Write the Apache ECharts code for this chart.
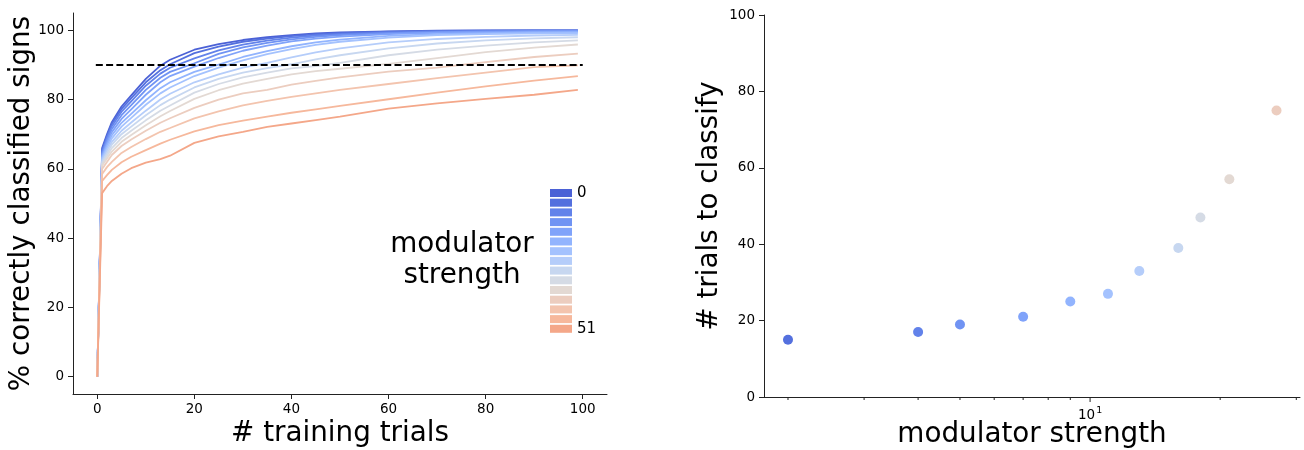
<!DOCTYPE html>
<html>
<head>
<meta charset="utf-8">
<script src="https://cdn.jsdelivr.net/npm/echarts@6/dist/echarts.min.js"></script>
<style>
  html, body { margin: 0; background: #fff; }
  #chart { width: 1304px; height: 450px; }
</style>
</head>
<body>
<div id="chart"></div>
<script>
// training trial index (x of the learning curves)
const trials = [0, 1, 2, 3, 5, 7, 10, 13, 15, 20, 25, 30, 35, 40, 45, 50, 60, 70, 80, 90, 99];
// modulator strength of each curve
const strengths = [0, 2, 4, 5, 7, 9, 11, 13, 16, 18, 21, 27, 33, 41, 51];
// % correctly classified, one row per strength
const accuracy = [
  [0, 66, 70, 73.5, 78, 81.2, 86, 89.8, 91.5, 94.4, 96, 97.2, 98, 98.6, 99.1, 99.4, 99.7, 99.9, 100, 100, 100],
  [0, 65.5, 69.5, 73, 77.3, 80.4, 85, 88.5, 90.2, 93.4, 95.3, 96.7, 97.6, 98.3, 98.8, 99.2, 99.6, 99.8, 99.9, 100, 100],
  [0, 65, 69, 72.3, 76.5, 79.5, 84, 87.5, 89.2, 91.9, 94.2, 95.9, 97, 97.9, 98.5, 98.9, 99.4, 99.7, 99.8, 99.9, 99.9],
  [0, 64.5, 68.3, 71.5, 75.5, 78.4, 82.8, 86.3, 88, 90.5, 93.2, 95.1, 96.4, 97.4, 98.1, 98.6, 99.2, 99.5, 99.7, 99.8, 99.8],
  [0, 64, 67.5, 70.6, 74.4, 77.2, 81.4, 85, 86.8, 89.5, 92, 94.1, 95.6, 96.8, 97.6, 98.2, 98.9, 99.3, 99.5, 99.6, 99.7],
  [0, 63.5, 66.8, 69.7, 73.3, 75.9, 79.8, 83.3, 85, 88, 90.1, 92.3, 94, 95.4, 96.5, 97.3, 98.4, 98.9, 99.2, 99.4, 99.5],
  [0, 63, 66, 68.8, 72.2, 74.7, 78.5, 81.8, 83.5, 86.8, 89.2, 91.3, 93.1, 94.6, 95.8, 96.7, 97.9, 98.6, 98.9, 99.1, 99.2],
  [0, 62.5, 65.3, 67.8, 71, 73.4, 76.8, 80, 81.7, 85, 87.3, 89.2, 90.6, 92.2, 93.6, 94.8, 96.5, 97.5, 98.1, 98.5, 98.7],
  [0, 62, 64.5, 67, 70, 72.2, 75.5, 78.4, 80, 83.5, 86, 87.8, 89.1, 90.2, 91.6, 92.8, 94.8, 96.2, 97.1, 97.7, 98],
  [0, 61.5, 63.8, 66, 68.9, 71, 74, 76.8, 78.3, 82, 84.5, 86.4, 87.8, 89, 89.7, 90.6, 92.8, 94.4, 95.6, 96.5, 97.1],
  [0, 61, 63, 65, 67.8, 69.8, 72.6, 75.2, 76.7, 80.2, 82.7, 84.6, 86, 87.3, 88.2, 88.9, 90.3, 92, 93.7, 95, 95.9],
  [0, 60, 62, 64, 66.6, 68.5, 71, 73.3, 74.6, 77.6, 80, 81.8, 82.8, 84.3, 85.4, 86.4, 88.1, 89.2, 90.8, 92.3, 93.3],
  [0, 58.5, 60.5, 62, 64.6, 66.3, 68.6, 70.7, 71.8, 74.6, 76.6, 78.3, 79.6, 80.8, 81.8, 82.8, 84.5, 86.2, 87.8, 89.4, 89.9],
  [0, 56.5, 58.2, 59.7, 61.9, 63.5, 65.4, 67.3, 68.4, 70.8, 72.6, 73.9, 75.1, 76.2, 77.2, 78.2, 80.1, 82, 83.8, 85.5, 86.8],
  [0, 53, 55, 56.5, 58.6, 60.2, 61.8, 62.8, 63.8, 67.5, 69.4, 70.7, 72.1, 73.1, 74.1, 75.1, 77.4, 78.9, 80.2, 81.4, 82.8]
];
const threshold = 90;
const thresholdSpan = [-0.3, 100];

// right panel: trials needed to reach the threshold
const pointStrength = [2, 4, 5, 7, 9, 11, 13, 16, 18, 21, 27];
const pointTrials = [15, 17, 19, 21, 25, 27, 33, 39, 47, 57, 75];

// tick labels
const trialTicks = [0, 20, 40, 60, 80, 100];
const accTicks = [0, 20, 40, 60, 80, 100];
const classifyTicks = [0, 20, 40, 60, 80, 100];
const logMajorTicks = [10];
const logMinorTicks = [2, 3, 4, 5, 6, 7, 8, 9, 20, 30];

// coolwarm samples
const colors = ['#4b61d6', '#5470de', '#6282ea', '#7093f3', '#80a3fa', '#92b4fe', '#a4c2fe', '#b5cdfa',
  '#c7d7f0', '#d5dbe5', '#e3d9d3', '#eccdbf', '#f3c4ae', '#f6b89c', '#f4a789'];

const FONT = 'DejaVu Sans';
const names = strengths.map(String);

const chart = echarts.init(document.getElementById('chart'), null, { renderer: 'canvas' });

const axisLine = { show: true, onZero: false, lineStyle: { color: '#222', width: 1 } };
const tickLabel = { color: '#000', fontSize: 13.5, fontFamily: FONT };
const nameStyle = { color: '#000', fontSize: 27.8, fontFamily: FONT };

function logTicks(values, len) {
  return {
    type: 'custom',
    xAxisIndex: 1,
    yAxisIndex: 1,
    silent: true,
    z: 5,
    data: values.map(v => [v, 0]),
    renderItem: (params, api) => {
      const p = api.coord([api.value(0), api.value(1)]);
      return {
        type: 'line',
        shape: { x1: p[0], y1: p[1], x2: p[0], y2: p[1] + len },
        style: { stroke: '#222', lineWidth: 1 }
      };
    }
  };
}

let series = [];
for (let i = 0; i < strengths.length; i++) {
  series.push({
    name: names[i],
    type: 'line',
    xAxisIndex: 0,
    yAxisIndex: 0,
    showSymbol: false,
    symbol: 'none',
    color: colors[i],
    lineStyle: { width: 1.8, color: colors[i] },
    itemStyle: { color: colors[i] },
    data: trials.map((t, j) => [t, accuracy[i][j]])
  });
}
series.push({
  name: 'threshold',
  type: 'line',
  xAxisIndex: 0,
  yAxisIndex: 0,
  showSymbol: false,
  symbol: 'none',
  z: 4,
  lineStyle: { color: '#000', width: 2, type: [7, 3.3] },
  data: thresholdSpan.map(x => [x, threshold])
});
series.push({
  name: 'trials',
  type: 'scatter',
  xAxisIndex: 1,
  yAxisIndex: 1,
  symbolSize: 10,
  data: pointStrength.map((s, i) => ({
    value: [s, pointTrials[i]],
    itemStyle: { color: colors[strengths.indexOf(s)], opacity: 1 }
  }))
});
series.push(logTicks(logMajorTicks, 5));
series.push(logTicks(logMinorTicks, 3));

const option = {
  animation: false,
  backgroundColor: '#fff',
  grid: [
    { left: 73, right: 697, top: 13, bottom: 56, containLabel: false, outerBoundsMode: 'none' },
    { left: 764, right: 4, top: 15, bottom: 53, containLabel: false, outerBoundsMode: 'none' }
  ],
  xAxis: [
    {
      type: 'value',
      gridIndex: 0,
      min: -5,
      max: 105,
      splitLine: { show: false },
      axisLine: axisLine,
      axisTick: { show: true, length: 5, lineStyle: { color: '#222' }, customValues: trialTicks },
      axisLabel: Object.assign({ margin: 8, customValues: trialTicks }, tickLabel),
      name: '# training trials',
      nameLocation: 'middle',
      nameGap: 26,
      nameMoveOverlap: false,
      nameTextStyle: nameStyle
    },
    {
      type: 'log',
      gridIndex: 1,
      logBase: 10,
      min: 1.76,
      max: 30.6,
      splitLine: { show: false },
      axisLine: axisLine,
      axisTick: { show: false },
      axisLabel: Object.assign({
        margin: 9,
        showMinLabel: false,
        showMaxLabel: false,
        formatter: v => (Math.abs(v - 10) < 1e-6 ? '{b|10}{s|1}' : ''),
        rich: {
          b: { fontSize: 13.5, fontFamily: FONT, color: '#000' },
          s: { fontSize: 9.5, fontFamily: FONT, color: '#000', verticalAlign: 'top', padding: [0, 0, 8, 1] }
        }
      }, tickLabel),
      name: 'modulator strength',
      nameLocation: 'middle',
      nameGap: 24,
      nameMoveOverlap: false,
      nameTextStyle: nameStyle
    }
  ],
  yAxis: [
    {
      type: 'value',
      gridIndex: 0,
      min: -5,
      max: 105,
      splitLine: { show: false },
      axisLine: axisLine,
      axisTick: { show: true, length: 5, lineStyle: { color: '#222' }, customValues: accTicks },
      axisLabel: Object.assign({ margin: 9, customValues: accTicks }, tickLabel),
      name: '% correctly classified signs',
      nameLocation: 'middle',
      nameGap: 37,
      nameMoveOverlap: false,
      nameTextStyle: nameStyle
    },
    {
      type: 'value',
      gridIndex: 1,
      min: 0,
      max: 100,
      interval: 20,
      splitLine: { show: false },
      axisLine: axisLine,
      axisTick: { show: true, length: 5, lineStyle: { color: '#222' }, customValues: classifyTicks },
      axisLabel: Object.assign({ margin: 9, customValues: classifyTicks }, tickLabel),
      name: '# trials to classify',
      nameLocation: 'middle',
      nameGap: 40,
      nameMoveOverlap: false,
      nameTextStyle: nameStyle
    }
  ],
  legend: {
    orient: 'vertical',
    left: 550,
    top: 185.5,
    padding: 0,
    icon: 'rect',
    itemWidth: 22,
    itemHeight: 8,
    itemGap: -5.3,
    selectedMode: false,
    data: names,
    // every entry carries a text box so all rows have the same height
    formatter: n => (n === names[0] || n === names[names.length - 1] ? n : '\u00a0'),
    textStyle: { color: '#000', fontSize: 15, lineHeight: 15, fontFamily: FONT }
  },
  graphic: [
    {
      type: 'text',
      x: 462,
      y: 229,
      style: {
        text: 'modulator\nstrength',
        textAlign: 'center',
        textVerticalAlign: 'top',
        fontSize: 27.8,
        lineHeight: 31,
        fontFamily: FONT,
        fill: '#000'
      }
    }
  ],
  series: series
};

chart.setOption(option, true);
</script>
</body>
</html>
